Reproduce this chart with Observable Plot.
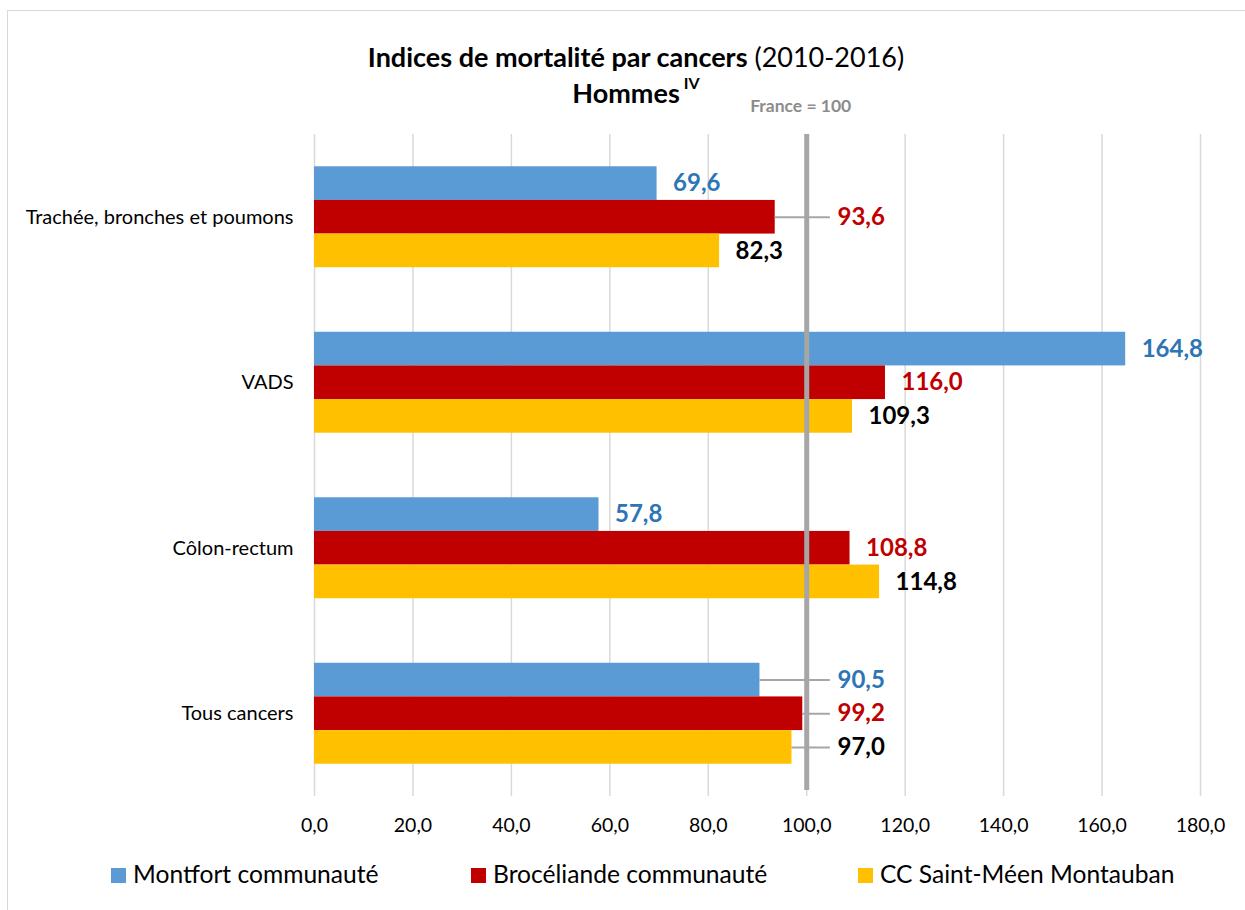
<!DOCTYPE html>
<html><head><meta charset="utf-8">
<script src="https://cdn.jsdelivr.net/npm/d3@7"></script>
<script src="https://cdn.jsdelivr.net/npm/@observablehq/plot@0.6"></script>
<style>
body{margin:0;background:#fff;font-family:Lato,sans-serif;}
#wrap{position:relative;width:1245px;height:910px;overflow:hidden;background:#fff;}
#frame{position:absolute;left:7px;top:10px;width:1300px;height:1000px;border:1.5px solid #d9d9d9;box-sizing:border-box;}
#chart{position:absolute;left:0;top:0;}
.t{position:absolute;left:0;width:1272px;text-align:center;color:#000;line-height:1;white-space:nowrap;}
#t1{top:43px;font-size:27px;}
#t2{top:79px;font-size:27px;font-weight:bold;}
#t2 sup{font-size:16px;vertical-align:top;position:relative;top:-4px;margin-left:4px;}
.leg{position:absolute;top:862px;font-size:24.6px;color:#000;white-space:nowrap;line-height:1;}
.leg span{display:inline-block;width:15px;height:15px;margin-right:7px;vertical-align:0px;}
</style></head>
<body>
<div id="wrap">
  <div id="frame"></div>
  <div id="chart"></div>
  <div class="t" id="t1"><b>Indices de mortalité par cancers</b> (2010-2016)</div>
  <div class="t" id="t2">Hommes<sup>IV</sup></div>
  <div id="legend"></div>
</div>
<script>
const categories = ["Trachée, bronches et poumons", "VADS", "Côlon-rectum", "Tous cancers"];
const series = ["Montfort communauté", "Brocéliande communauté", "CC Saint-Méen Montauban"];
const montfort = [69.6, 164.8, 57.8, 90.5];
const broceliande = [93.6, 116.0, 108.8, 99.2];
const saintMeen = [82.3, 109.3, 114.8, 97.0];
const xTicks = [0, 20, 40, 60, 80, 100, 120, 140, 160, 180];
const reference = 100;
const referenceLabel = "France = 100";

const barColors = ["#5b9bd5", "#c00000", "#ffc000"];
const labelColors = ["#2e75b6", "#c00000", "#000000"];
const seriesValues = [montfort, broceliande, saintMeen];

const W = 1245, H = 860;
const top0 = 134, bottom0 = 796, left0 = 314, right0 = 1200;
const padIn = 0.39;
const step = (bottom0 - top0) / categories.length;
const bw = step * (1 - padIn);
const third = bw / 3;

const rows = categories.flatMap((c, i) => series.map((s, j) => ({category: c, series: s, j, value: seriesValues[j][i]})));
const fmt = v => d3.format(".1f")(v).replace(".", ",");
const needsLeader = v => v > 85 && v < reference;
const leaderEnd = 104.8, leaderLabelX = 103.0;

const marks = [
  Plot.gridX(xTicks, {stroke: "#d9d9d9", strokeOpacity: 1, strokeWidth: 1.5}),
  ...series.map((s, j) => Plot.barX(rows.filter(r => r.j === j), {
    x: "value", y: "category", fill: barColors[j],
    insetTop: j * third, insetBottom: (2 - j) * third
  })),
  Plot.ruleX([reference], {stroke: "#a6a6a6", strokeWidth: 5, insetBottom: 6}),
  ...series.map((s, j) => Plot.ruleY(rows.filter(r => r.j === j && needsLeader(r.value)), {
    y: "category", x1: "value", x2: leaderEnd, dy: (j - 1) * third, stroke: "#a6a6a6", strokeWidth: 2
  })),
  ...series.map((s, j) => Plot.text(rows.filter(r => r.j === j), {
    x: r => needsLeader(r.value) ? leaderLabelX : r.value, y: "category",
    text: r => fmt(r.value), dy: (j - 1) * third, dx: 16, textAnchor: "start",
    fill: labelColors[j], fontWeight: "bold", fontSize: 24
  })),
  Plot.text([reference], {x: d => d, frameAnchor: "top", dy: -35, dx: -6, text: () => referenceLabel,
    fill: "#8c8c8c", fontWeight: "bold", fontSize: 17.5}),
  Plot.axisX({ticks: xTicks, tickFormat: fmt, tickSize: 0, tickPadding: 22, fontSize: 19.5, label: null}),
  Plot.axisY({tickSize: 0, tickPadding: 21, fontSize: 20, label: null})
];

const chart = Plot.plot({
  width: W, height: H,
  marginTop: top0, marginBottom: H - bottom0, marginLeft: left0, marginRight: W - right0,
  style: {fontFamily: "Lato, sans-serif", color: "#000", background: "transparent", overflow: "visible"},
  x: {domain: [0, 180]},
  y: {domain: categories, paddingInner: padIn, paddingOuter: padIn / 2, round: false},
  marks
});
document.getElementById("chart").appendChild(chart);

const legendLefts = [111, 471, 858];
const legend = document.getElementById("legend");
series.forEach((s, j) => {
  const d = document.createElement("div");
  d.className = "leg";
  d.style.left = legendLefts[j] + "px";
  d.innerHTML = `<span style="background:${barColors[j]}"></span>${s}`;
  legend.appendChild(d);
});
</script>
</body></html>
